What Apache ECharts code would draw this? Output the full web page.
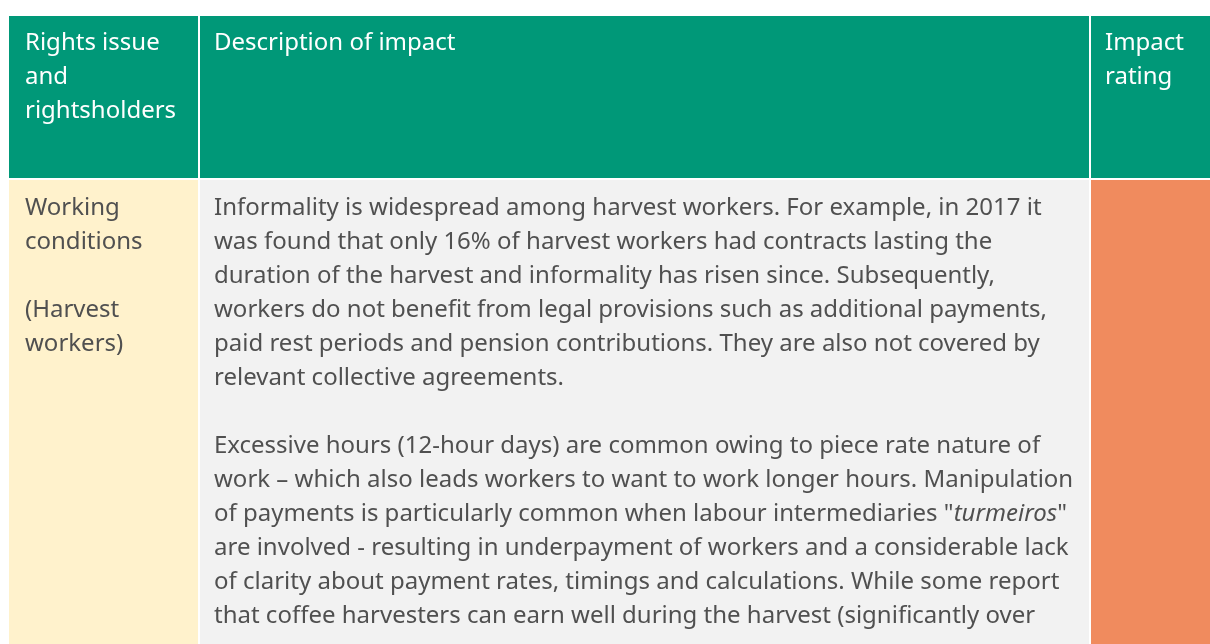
<!DOCTYPE html>
<html>
<head>
<meta charset="utf-8">
<script src="https://cdn.jsdelivr.net/npm/echarts@6/dist/echarts.min.js"></script>
<style>
  html, body { margin: 0; padding: 0; background: #fff; }
  #main { width: 1210px; height: 644px; }
</style>
</head>
<body>
<div id="main"></div>
<script>
// table content
var headers = ['Rights issue\nand\nrightsholders', 'Description of impact', 'Impact\nrating'];

var issueText = 'Working\nconditions\n\n(Harvest\nworkers)';

var impactLines = [
  'Informality is widespread among harvest workers. For example, in 2017 it',
  'was found that only 16% of harvest workers had contracts lasting the',
  'duration of the harvest and informality has risen since. Subsequently,',
  'workers do not benefit from legal provisions such as additional payments,',
  'paid rest periods and pension contributions. They are also not covered by',
  'relevant collective agreements.',
  '',
  'Excessive hours (12-hour days) are common owing to piece rate nature of',
  'work \u2013 which also leads workers to want to work longer hours. Manipulation',
  'of payments is particularly common when labour intermediaries "{i|turmeiros}"',
  'are involved - resulting in underpayment of workers and a considerable lack',
  'of clarity about payment rates, timings and calculations. While some report',
  'that coffee harvesters can earn well during the harvest (significantly over'
];

var ratingText = '';

// cells: [column, row]
var cells = [
  [0, 0, headers[0]],
  [1, 0, headers[1]],
  [2, 0, headers[2]],
  [0, 1, issueText],
  [1, 1, impactLines.join('\n')],
  [2, 1, ratingText]
];

// layout (pixels in the hidden axis space)
var colEdges = [[9, 198], [200, 1089], [1091, 1210]];
var rowEdges = [[16, 178], [180, 700]];
var padX = [16, 14, 14];
var padTop = [10, 11];
var fills = [
  ['#009878', '#009878', '#009878'],
  ['#FFF2CC', '#F2F2F2', '#F08B5E']
];
var textColors = ['#ffffff', '#505050'];
var fontFamily = '"Noto Sans", "Open Sans", sans-serif';
var fontSize = 24;

var chart = echarts.init(document.getElementById('main'), null, { renderer: 'canvas' });

chart.setOption({
  backgroundColor: '#ffffff',
  animation: false,
  grid: { left: 0, right: 0, top: 0, bottom: 0 },
  xAxis: { type: 'value', min: 0, max: 1210, show: false },
  yAxis: { type: 'value', min: 0, max: 644, inverse: true, show: false },
  series: [{
    type: 'custom',
    coordinateSystem: 'cartesian2d',
    clip: true,
    data: cells,
    renderItem: function (params, api) {
      var c = api.value(0), r = api.value(1);
      var txt = cells[params.dataIndex][2];
      var p0 = api.coord([colEdges[c][0], rowEdges[r][0]]);
      var p1 = api.coord([colEdges[c][1], rowEdges[r][1]]);
      return {
        type: 'group',
        children: [{
          type: 'rect',
          shape: { x: p0[0], y: p0[1], width: p1[0] - p0[0], height: p1[1] - p0[1] },
          style: { fill: fills[r][c] }
        }, {
          type: 'text',
          style: {
            x: p0[0] + padX[c],
            y: p0[1] + padTop[r],
            text: txt,
            fill: textColors[r],
            font: fontSize + 'px ' + fontFamily,
            lineHeight: 34,
            verticalAlign: 'top',
            rich: { i: { fontStyle: 'italic', fontSize: fontSize, fontFamily: fontFamily, lineHeight: 34, fill: textColors[r] } }
          }
        }]
      };
    }
  }]
});
</script>
</body>
</html>
